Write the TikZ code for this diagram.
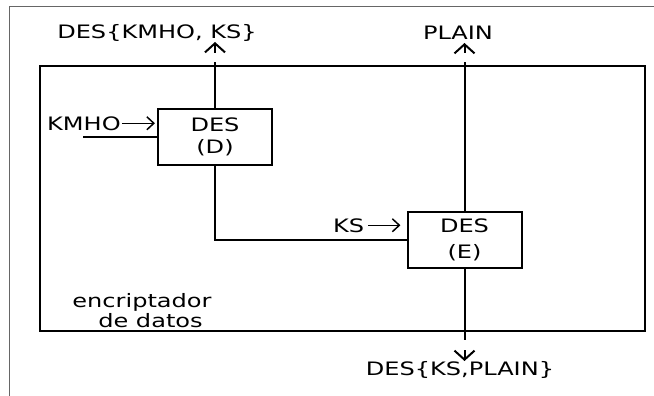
\documentclass[tikz,border=0pt]{standalone}
\usepackage{fontspec}
\setmainfont[FakeStretch=1.3]{DejaVu Sans}
\usetikzlibrary{arrows.meta,calc}
\begin{document}
\begin{tikzpicture}[x=1pt,y=-1pt,
  lbl/.style={font=\fontsize{18.5}{23}\selectfont, inner sep=0pt, anchor=base},
  boxnode/.style={draw, line width=2pt, minimum width=114pt, minimum height=56pt, inner sep=0pt, align=center},
  wire/.style={line width=2pt},
  outarr/.style={line width=2pt, -{Straight Barb[length=9pt,width=20pt]}},
  smallarr/.style={line width=1.5pt, -{Straight Barb[length=7pt,width=13pt]}},
  frame/.style={draw=black!60, line width=1pt}]
\useasboundingbox (0,0) rectangle (654,396);
% outer frame (partial)
\draw[frame] (9,396) -- (9,7) -- (654,7);
% enclosing box
\node[draw, line width=2pt, minimum width=605pt, minimum height=265pt, inner sep=0pt] (enc) at (342.5,198.5) {};
% DES boxes
\node[boxnode, font=\fontsize{18.5}{22}\selectfont] (d) at (215,137) {DES\\(D)};
\node[boxnode, font=\fontsize{18.5}{26}\selectfont] (e) at (464.5,240) {DES\\(E)};
% labels
\node[lbl] (out1) at (157,39) {DES\{KMHO, KS\}};
\node[lbl] (plain) at (458,40) {PLAIN};
\node[lbl] (out2) at (460,375) {DES\{KS,PLAIN\}};
\node[lbl, anchor=base west] (kmho) at (47,130) {KMHO};
\node[lbl, anchor=base west] (ks) at (333,232) {KS};
\node[lbl] (enc1) at (142,307) {encriptador};
\node[lbl] (enc2) at (150.5,327) {de datos};
% small label arrows
\draw[smallarr] ([xshift=1pt]kmho.east) -- ++(33,0);
\draw[smallarr] ([xshift=4pt]ks.east) -- ++(32,0);
% coordinates
\coordinate (kin) at (83,137);
\coordinate (da) at (215,62);
\coordinate (db) at (215,53);
\coordinate (dt) at (215,42);
\coordinate (ea) at (464.5,62);
\coordinate (eb) at (464.5,53);
\coordinate (et) at (464.5,43);
\coordinate (ec) at (464.5,340);
\coordinate (ed) at (464.5,350);
\coordinate (ee) at (464.5,361);
% connectors
\draw[wire] (kin) -- (d);
\draw[wire] (d) |- (e);
\draw[wire] (d) -- (da);
\draw[outarr] (db) -- (dt);
\draw[wire] (e) -- (ea);
\draw[outarr] (eb) -- (et);
\draw[wire] (e) -- (ec);
\draw[outarr] (ed) -- (ee);
\end{tikzpicture}
\end{document}
